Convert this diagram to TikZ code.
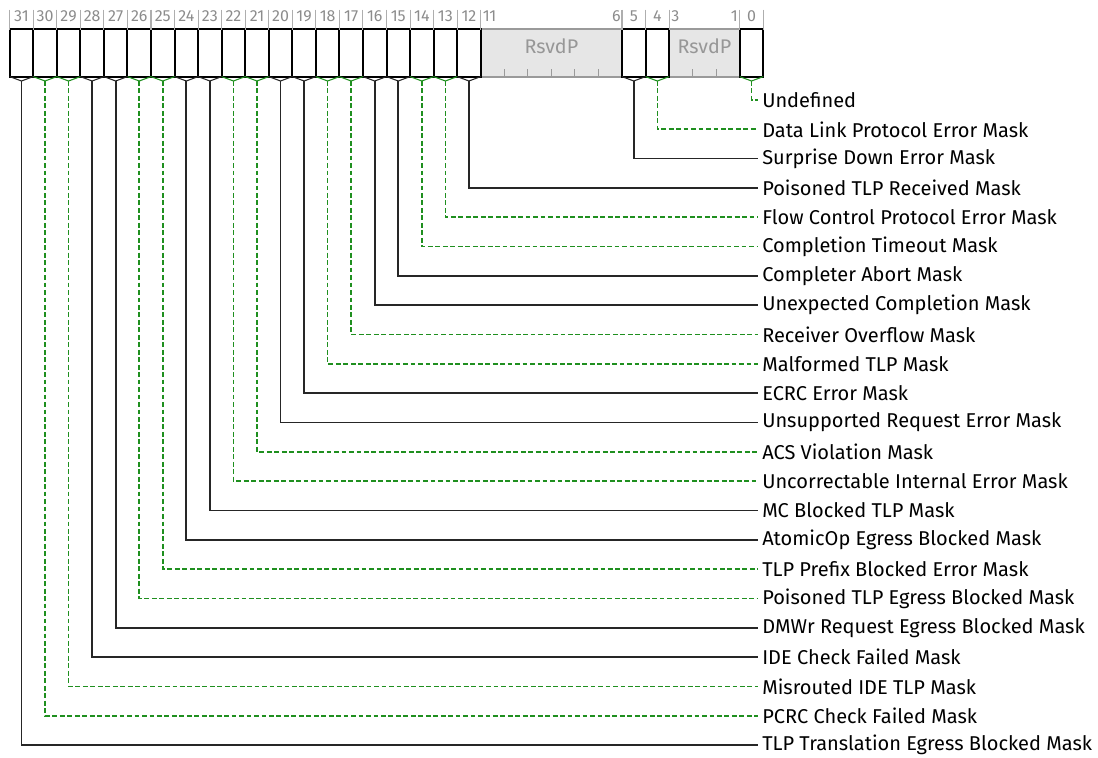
\documentclass[tikz,border=0pt]{standalone}
\usepackage{fontspec}
\setmainfont{Fira Sans}
\definecolor{maskgreen}{HTML}{1F8F1F}
\definecolor{numgray}{HTML}{8C8C8C}
\definecolor{rsvdfill}{HTML}{E6E6E6}
\definecolor{rsvdline}{HTML}{9A9A9A}
\tikzset{
  bitcell/.style={draw, line width=1.5pt, minimum width=17.66pt, minimum height=35.4pt, inner sep=0pt, outer sep=0pt},
  rsvdcell/.style={draw=rsvdline, fill=rsvdfill, line width=1.5pt, minimum height=35.4pt, inner sep=0pt, outer sep=0pt},
  rsvdtext/.style={text=numgray!90, font=\fontsize{14.8}{16}\selectfont, inner sep=0pt},
  bitnum/.style={text=numgray, font=\fontsize{12}{13}\selectfont, inner sep=0pt},
  masklabel/.style={anchor=west, inner sep=3pt, font=\fontsize{15}{17}\selectfont},
  plainlink/.style={line width=1.25pt, black!85},
  greenlink/.style={line width=1.25pt, maskgreen, dash pattern=on 3.6pt off 2pt},
}
\begin{document}
\begin{tikzpicture}[x=0.75pt, y=-0.75pt]
\useasboundingbox (0,0) rectangle (1098,757);
% reserved fields
\node[rsvdcell, minimum width=106pt] (r11) at (551.35,53) {};
\node[rsvdcell, minimum width=53pt] (r3) at (704.4,53) {};
\node[rsvdtext] (r11txt) at (551.35,46) {RsvdP};
\node[rsvdtext] (r3txt) at (704.4,46) {RsvdP};
\foreach \i in {1,...,5} \draw[rsvdline, line width=0.8pt] ({480.7+\i*23.55},76.5) -- ++(0,-8);
\foreach \i in {1,2} \draw[rsvdline, line width=0.8pt] ({669.1+\i*23.55},76.5) -- ++(0,-8);
% bit cells
\foreach \b in {31,...,12,5,4,0} {
  \pgfmathsetmacro{\xb}{21.475+(31-\b)*23.55}
  \node[bitcell] (b\b) at (\xb,53) {};
  \coordinate (t\b) at (\xb,81);
  \node[bitnum] (n\b) at (\xb,16.5) {\b};
}
% bit numbers of the reserved fields
\node[bitnum, anchor=west] (n11) at (482.5,16.5) {11};
\node[bitnum, anchor=east] (n6) at (621,16.5) {6};
\node[bitnum, anchor=west] (n3) at (671,16.5) {3};
\node[bitnum, anchor=east] (n1) at (738,16.5) {1};
\foreach \b in {31,...,11,5,4,3,0,-1} \draw[numgray!70, line width=0.8pt] ({9.7+(31-\b)*23.55},9.5) -- ++(0,20);
% labels and links
\foreach \b/\k/\lk/\txt in {
  0/0/greenlink/Undefined,
  4/1/greenlink/Data Link Protocol Error Mask,
  5/2/plainlink/Surprise Down Error Mask,
  12/3/plainlink/Poisoned TLP Received Mask,
  13/4/greenlink/Flow Control Protocol Error Mask,
  14/5/greenlink/Completion Timeout Mask,
  15/6/plainlink/Completer Abort Mask,
  16/7/plainlink/Unexpected Completion Mask,
  17/8/greenlink/Receiver Overflow Mask,
  18/9/greenlink/Malformed TLP Mask,
  19/10/plainlink/ECRC Error Mask,
  20/11/plainlink/Unsupported Request Error Mask,
  21/12/greenlink/ACS Violation Mask,
  22/13/greenlink/Uncorrectable Internal Error Mask,
  23/14/plainlink/MC Blocked TLP Mask,
  24/15/plainlink/AtomicOp Egress Blocked Mask,
  25/16/greenlink/TLP Prefix Blocked Error Mask,
  26/17/greenlink/Poisoned TLP Egress Blocked Mask,
  27/18/plainlink/DMWr Request Egress Blocked Mask,
  28/19/plainlink/IDE Check Failed Mask,
  29/20/greenlink/Misrouted IDE TLP Mask,
  30/21/greenlink/PCRC Check Failed Mask,
  31/22/plainlink/TLP Translation Egress Blocked Mask} {
  \node[masklabel] (l\b) at (758,{100+\k*29.32}) {\txt};
  \draw[\lk, solid, line width=0.8pt] (b\b.south west) -- (t\b) -- (b\b.south east);
  \draw[\lk] (t\b) |- (l\b.west);
}
\end{tikzpicture}
\end{document}
